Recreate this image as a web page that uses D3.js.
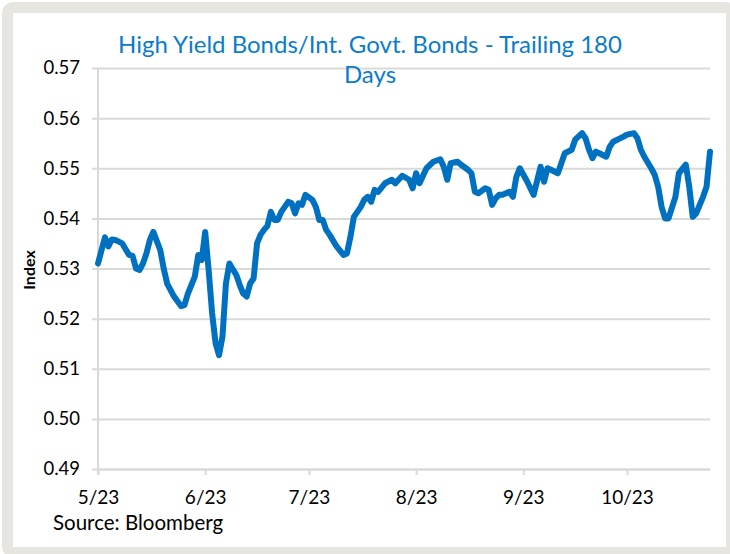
<!DOCTYPE html>
<html>
<head>
<meta charset="utf-8">
<script src="https://cdn.jsdelivr.net/npm/d3@7"></script>
<style>
  html, body { margin: 0; padding: 0; background: #ffffff; }
  svg { display: block; }
  text { font-family: Lato, "Open Sans", sans-serif; }
</style>
</head>
<body>
<div id="chart"></div>
<script>
// High-yield / intermediate government bond ratio, trailing 180 days
const dates = [
  "2023-05-01","2023-05-03","2023-05-04","2023-05-05","2023-05-06","2023-05-08","2023-05-10","2023-05-11",
  "2023-05-12","2023-05-13","2023-05-14","2023-05-15","2023-05-16","2023-05-17","2023-05-19","2023-05-20",
  "2023-05-21","2023-05-23","2023-05-25","2023-05-26","2023-05-27","2023-05-29","2023-05-30","2023-05-31",
  "2023-06-01","2023-06-02","2023-06-03","2023-06-04","2023-06-05","2023-06-06","2023-06-07","2023-06-08",
  "2023-06-10","2023-06-11","2023-06-12","2023-06-13","2023-06-14","2023-06-15","2023-06-16","2023-06-17",
  "2023-06-18","2023-06-19","2023-06-20","2023-06-21","2023-06-22","2023-06-23","2023-06-25","2023-06-26",
  "2023-06-27","2023-06-28","2023-06-29","2023-06-30","2023-07-02","2023-07-03","2023-07-04","2023-07-05",
  "2023-07-06","2023-07-07","2023-07-09","2023-07-11","2023-07-12","2023-07-13","2023-07-14","2023-07-16",
  "2023-07-17","2023-07-18","2023-07-19","2023-07-20","2023-07-21","2023-07-23","2023-07-25","2023-07-26",
  "2023-07-28","2023-07-30","2023-07-31","2023-08-01","2023-08-02","2023-08-04","2023-08-06","2023-08-08",
  "2023-08-09","2023-08-10","2023-08-11","2023-08-13","2023-08-14","2023-08-16","2023-08-17","2023-08-18",
  "2023-08-19","2023-08-21","2023-08-22","2023-08-23","2023-08-24","2023-08-25","2023-08-26","2023-08-27",
  "2023-08-28","2023-08-29","2023-08-30","2023-08-31","2023-09-02","2023-09-04","2023-09-06","2023-09-07",
  "2023-09-08","2023-09-09","2023-09-11","2023-09-12","2023-09-13","2023-09-15","2023-09-16","2023-09-18",
  "2023-09-19","2023-09-20","2023-09-21","2023-09-22","2023-09-23","2023-09-25","2023-09-26","2023-09-27",
  "2023-09-30","2023-10-01","2023-10-03","2023-10-04","2023-10-05","2023-10-06","2023-10-08","2023-10-09",
  "2023-10-10","2023-10-11","2023-10-12","2023-10-13","2023-10-15","2023-10-16","2023-10-18","2023-10-19",
  "2023-10-20","2023-10-21","2023-10-23","2023-10-24","2023-10-25"
];
const ratio = [
  0.5310,0.5362,0.5344,0.5358,0.5357,0.5350,0.5327,0.5325,
  0.5300,0.5297,0.5310,0.5330,0.5357,0.5373,0.5337,0.5300,
  0.5270,0.5244,0.5225,0.5227,0.5250,0.5284,0.5327,0.5317,
  0.5373,0.5297,0.5211,0.5151,0.5127,0.5164,0.5270,0.5310,
  0.5287,0.5267,0.5250,0.5244,0.5270,0.5280,0.5350,0.5367,
  0.5377,0.5385,0.5413,0.5397,0.5397,0.5413,0.5433,0.5430,
  0.5410,0.5430,0.5427,0.5447,0.5437,0.5423,0.5397,0.5397,
  0.5377,0.5367,0.5344,0.5327,0.5330,0.5363,0.5403,0.5423,
  0.5437,0.5443,0.5433,0.5457,0.5453,0.5470,0.5477,0.5470,
  0.5485,0.5477,0.5460,0.5490,0.5470,0.5500,0.5513,0.5518,
  0.5503,0.5477,0.5510,0.5513,0.5507,0.5497,0.5490,0.5453,
  0.5450,0.5460,0.5457,0.5427,0.5440,0.5447,0.5447,0.5450,
  0.5453,0.5443,0.5483,0.5500,0.5475,0.5447,0.5503,0.5473,
  0.5500,0.5497,0.5490,0.5510,0.5530,0.5537,0.5557,0.5570,
  0.5560,0.5537,0.5520,0.5533,0.5530,0.5523,0.5543,0.5553,
  0.5563,0.5567,0.5570,0.5560,0.5537,0.5523,0.5500,0.5487,
  0.5463,0.5423,0.5400,0.5400,0.5443,0.5490,0.5507,0.5463,
  0.5403,0.5410,0.5443,0.5463,0.5533
];
const yTicks = [0.49, 0.50, 0.51, 0.52, 0.53, 0.54, 0.55, 0.56, 0.57];
const xTickDates = ["2023-05-01","2023-06-01","2023-07-01","2023-08-01","2023-09-01","2023-10-01"];
const titleLines = ["High Yield Bonds/Int. Govt. Bonds - Trailing 180", "Days"];
const yAxisTitle = "Index";
const sourceNote = "Source: Bloomberg";

const W = 730, H = 554;
const plot = { left: 98, right: 710, top: 68, bottom: 469 };
const parse = d3.utcParse("%Y-%m-%d");
const series = dates.map((d, i) => ({ date: parse(d), value: ratio[i] }));

const svg = d3.select("#chart").append("svg")
  .attr("width", W).attr("height", H);

// Outer panel frame
svg.append("rect")
  .attr("x", 7.5).attr("y", 7.5)
  .attr("width", 724).attr("height", 545)
  .attr("rx", 6).attr("ry", 6)
  .attr("fill", "#ffffff")
  .attr("stroke", "#e6e5e0")
  .attr("stroke-width", 11);

const x = d3.scaleUtc()
  .domain([parse(dates[0]), parse(dates[dates.length - 1])])
  .range([plot.left, plot.right]);
const y = d3.scaleLinear()
  .domain([0.49, 0.57])
  .range([plot.bottom, plot.top]);

const gridColor = "#d9d9d9";

// Horizontal gridlines with short outside ticks
const yAxis = d3.axisLeft(y)
  .tickValues(yTicks)
  .tickSize(-(plot.right - plot.left) - 6)
  .tickSizeOuter(0)
  .tickPadding(14)
  .tickFormat(d3.format(".2f"));
const gy = svg.append("g")
  .attr("transform", `translate(${plot.right},0)`)
  .call(yAxis);
gy.select(".domain").remove();
gy.selectAll(".tick line")
  .attr("x1", -(plot.right - plot.left) - 6)
  .attr("x2", 0)
  .attr("stroke", gridColor).attr("stroke-width", 2);
gy.selectAll(".tick text")
  .attr("x", -(plot.right - plot.left) - 18)
  .attr("fill", "#000")
  .style("font-size", "18.5px");

// Vertical axis line
svg.append("line")
  .attr("x1", plot.left).attr("x2", plot.left)
  .attr("y1", plot.top).attr("y2", plot.bottom + 6)
  .attr("stroke", gridColor).attr("stroke-width", 2);

// Date axis
const xAxis = d3.axisBottom(x)
  .tickValues(xTickDates.map(parse))
  .tickSize(6)
  .tickSizeOuter(0)
  .tickPadding(16)
  .tickFormat(d3.utcFormat("%-m/%y"));
const gx = svg.append("g")
  .attr("transform", `translate(0,${plot.bottom})`)
  .call(xAxis);
gx.select(".domain").attr("stroke", gridColor).attr("stroke-width", 2);
gx.selectAll(".tick line").attr("stroke", gridColor).attr("stroke-width", 2);
gx.selectAll(".tick text").attr("fill", "#000").style("font-size", "19px");

// Series line
const line = d3.line()
  .x(d => x(d.date))
  .y(d => y(d.value))
  .curve(d3.curveLinear);
svg.append("path")
  .datum(series)
  .attr("d", line)
  .attr("fill", "none")
  .attr("stroke", "#0070c0")
  .attr("stroke-width", 6)
  .attr("stroke-linejoin", "round")
  .attr("stroke-linecap", "round");

// Title
svg.append("g").selectAll("text")
  .data(titleLines)
  .join("text")
  .attr("x", 370)
  .attr("y", (d, i) => 53 + i * 30)
  .attr("text-anchor", "middle")
  .attr("fill", "#0a7ccc")
  .style("font-size", "24px")
  .text(d => d);

// Axis title
svg.append("text")
  .attr("transform", `translate(35,270) rotate(-90)`)
  .attr("text-anchor", "middle")
  .attr("fill", "#000")
  .style("font-size", "16px")
  .style("font-weight", "bold")
  .text(yAxisTitle);

// Source note
svg.append("text")
  .attr("x", 53).attr("y", 530)
  .attr("fill", "#000")
  .style("font-size", "20.5px")
  .text(sourceNote);
</script>
</body>
</html>
